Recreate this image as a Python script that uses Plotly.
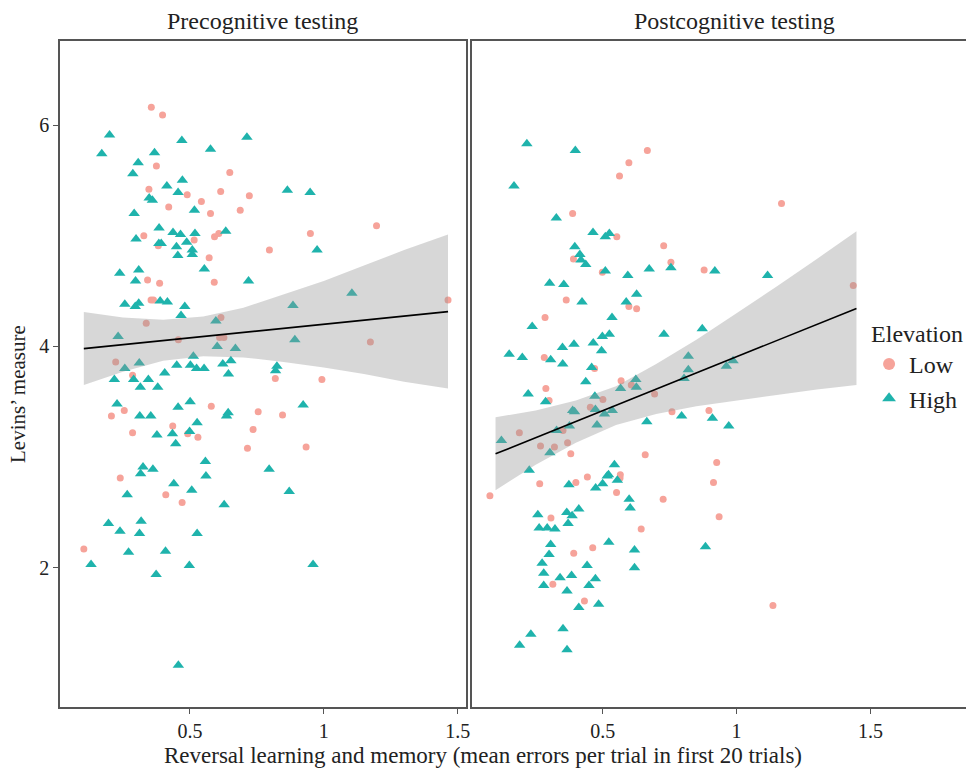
import plotly.graph_objects as go

# ---------------- data ----------------
pre_low_x = [0.356, 0.398, 0.375, 0.649, 0.347, 0.490, 0.615, 0.722, 0.543, 0.421, 0.577, 0.688,
             0.328, 0.382, 0.516, 0.592, 0.608, 0.572, 0.342, 0.387, 0.591, 0.355, 0.364, 0.337,
             0.616, 0.457, 0.611, 0.627, 0.223, 0.286, 0.207, 0.255, 0.286, 0.436, 0.492, 0.530,
             0.580, 0.755, 0.736, 0.715, 0.240, 0.410, 0.471, 0.104, 0.797, 0.950, 1.197, 1.464,
             1.174, 0.819, 0.993, 0.846, 0.934]
pre_low_y = [6.16, 6.09, 5.63, 5.57, 5.42, 5.37, 5.40, 5.36, 5.31, 5.26, 5.20, 5.23,
             5.00, 4.91, 4.96, 4.99, 5.02, 4.80, 4.60, 4.57, 4.58, 4.42, 4.42, 4.21,
             4.26, 4.06, 4.08, 4.08, 3.86, 3.74, 3.37, 3.42, 3.22, 3.28, 3.21, 3.18,
             3.46, 3.41, 3.25, 3.08, 2.81, 2.66, 2.59, 2.17, 4.87, 5.02, 5.09, 4.42,
             4.04, 3.71, 3.70, 3.38, 3.09]

pre_high_x = [0.200, 0.171, 0.470, 0.577, 0.713, 0.368, 0.307, 0.287, 0.472, 0.414, 0.456, 0.348,
              0.360, 0.292, 0.517, 0.385, 0.437, 0.465, 0.519, 0.634, 0.299, 0.384, 0.393, 0.450,
              0.488, 0.509, 0.509, 0.455, 0.554, 0.238, 0.309, 0.297, 0.719, 0.257, 0.296, 0.309,
              0.389, 0.416, 0.481, 0.467, 0.597, 0.232, 0.602, 0.670, 0.513, 0.257, 0.311, 0.451,
              0.502, 0.525, 0.553, 0.623, 0.653, 0.406, 0.644, 0.218, 0.290, 0.345, 0.315, 0.380,
              0.228, 0.313, 0.354, 0.456, 0.501, 0.527, 0.643, 0.637, 0.377, 0.435, 0.499, 0.447,
              0.558, 0.325, 0.316, 0.362, 0.560, 0.440, 0.507, 0.266, 0.628, 0.196, 0.318, 0.239,
              0.312, 0.527, 0.271, 0.409, 0.131, 0.498, 0.374, 0.457, 0.864, 0.949, 0.975, 1.105,
              0.885, 0.892, 0.825, 0.820, 0.923, 0.796, 0.871, 0.960]
pre_high_y = [5.91, 5.74, 5.86, 5.78, 5.89, 5.75, 5.66, 5.56, 5.50, 5.45, 5.39, 5.34,
              5.32, 5.20, 5.23, 5.07, 5.03, 5.01, 5.02, 5.04, 4.97, 4.93, 4.93, 4.90,
              4.94, 4.87, 4.83, 4.82, 4.70, 4.66, 4.69, 4.59, 4.59, 4.38, 4.36, 4.39,
              4.41, 4.40, 4.36, 4.28, 4.23, 4.09, 4.00, 3.98, 3.91, 3.80, 3.85, 3.83,
              3.83, 3.80, 3.80, 3.84, 3.87, 3.76, 3.75, 3.70, 3.70, 3.70, 3.63, 3.63,
              3.48, 3.37, 3.37, 3.45, 3.50, 3.31, 3.40, 3.37, 3.20, 3.21, 3.23, 3.12,
              2.96, 2.91, 2.85, 2.89, 2.83, 2.76, 2.70, 2.66, 2.57, 2.40, 2.42, 2.33,
              2.31, 2.31, 2.14, 2.15, 2.03, 2.02, 1.94, 1.12, 5.41, 5.39, 4.87, 4.48,
              4.37, 4.06, 3.82, 3.78, 3.47, 2.89, 2.69, 2.03]

post_low_x = [0.667, 0.598, 0.563, 0.388, 0.553, 0.728, 0.755, 0.391, 0.499, 0.364, 0.598, 0.627,
              0.285, 0.282, 0.470, 0.288, 0.569, 0.607, 0.694, 1.168, 0.879, 1.436, 0.300, 0.501,
              0.454, 0.759, 0.189, 0.352, 0.268, 0.320, 0.369, 0.381, 0.659, 0.079, 0.265, 0.400,
              0.443, 0.566, 0.565, 0.552, 0.726, 0.307, 0.644, 0.463, 0.392, 0.314, 0.432, 0.897,
              0.926, 0.914, 0.935, 1.136]
post_low_y = [5.77, 5.66, 5.54, 5.20, 4.99, 4.91, 4.76, 4.79, 4.67, 4.42, 4.36, 4.34,
              4.26, 3.90, 3.80, 3.62, 3.69, 3.65, 3.57, 5.29, 4.69, 4.55, 3.51, 3.52,
              3.45, 3.41, 3.22, 3.24, 3.10, 3.09, 3.13, 3.03, 3.02, 2.65, 2.76, 2.77,
              2.82, 2.84, 2.81, 2.68, 2.62, 2.45, 2.35, 2.18, 2.13, 1.85, 1.70, 3.42,
              2.95, 2.77, 2.46, 1.66]

post_high_x = [0.217, 0.398, 0.169, 0.327, 0.464, 0.510, 0.525, 0.396, 0.415, 0.419, 0.437, 0.510,
               0.594, 0.674, 0.755, 0.302, 0.355, 0.627, 0.423, 0.588, 0.535, 0.237, 0.729, 0.499,
               0.525, 0.350, 0.393, 0.465, 0.496, 0.151, 0.200, 0.306, 0.351, 0.459, 0.437, 0.222,
               0.567, 0.624, 0.626, 0.471, 0.919, 1.116, 0.872, 0.820, 0.820, 0.804, 0.962, 0.987,
               0.287, 0.388, 0.395, 0.473, 0.507, 0.536, 0.479, 0.665, 0.328, 0.376, 0.122, 0.303,
               0.226, 0.544, 0.517, 0.522, 0.555, 0.500, 0.474, 0.374, 0.599, 0.603, 0.258, 0.411,
               0.366, 0.386, 0.371, 0.263, 0.293, 0.322, 0.306, 0.523, 0.300, 0.619, 0.274, 0.442,
               0.619, 0.280, 0.341, 0.384, 0.473, 0.280, 0.449, 0.367, 0.411, 0.485, 0.352, 0.232,
               0.190, 0.367, 0.795, 0.910, 0.971, 0.884]
post_high_y = [5.83, 5.77, 5.45, 5.16, 5.03, 4.99, 5.02, 4.90, 4.83, 4.78, 4.74, 4.68,
               4.64, 4.70, 4.71, 4.57, 4.56, 4.47, 4.40, 4.40, 4.26, 4.18, 4.11, 4.09,
               4.11, 3.99, 4.02, 4.03, 3.96, 3.93, 3.90, 3.88, 3.84, 3.81, 3.68, 3.57,
               3.62, 3.70, 3.63, 3.55, 4.68, 4.64, 4.16, 3.91, 3.79, 3.71, 3.82, 3.87,
               3.50, 3.42, 3.41, 3.43, 3.39, 3.42, 3.29, 3.32, 3.24, 3.28, 3.15, 3.04,
               2.88, 2.93, 2.83, 2.84, 2.79, 2.76, 2.72, 2.75, 2.62, 2.54, 2.48, 2.53,
               2.50, 2.47, 2.40, 2.36, 2.36, 2.35, 2.21, 2.23, 2.12, 2.16, 2.04, 2.02,
               2.00, 1.95, 1.91, 1.93, 1.90, 1.84, 1.84, 1.79, 1.64, 1.67, 1.45, 1.40,
               1.30, 1.26, 3.37, 3.35, 3.28, 2.19]

# linear fit with 95% band
pre_fit_x = [0.104, 0.25, 0.40, 0.55, 0.70, 0.85, 1.00, 1.15, 1.30, 1.464]
pre_fit_y = [3.98, 4.016, 4.053, 4.090, 4.127, 4.163, 4.200, 4.237, 4.274, 4.314]
pre_band_hi = [4.31, 4.26, 4.24, 4.27, 4.35, 4.47, 4.59, 4.73, 4.87, 5.01]
pre_band_lo = [3.65, 3.77, 3.87, 3.91, 3.90, 3.86, 3.81, 3.75, 3.68, 3.62]

post_fit_x = [0.10, 0.25, 0.40, 0.55, 0.70, 0.85, 1.00, 1.15, 1.30, 1.448]
post_fit_y = [3.029, 3.175, 3.321, 3.467, 3.613, 3.759, 3.905, 4.051, 4.197, 4.343]
post_band_hi = [3.36, 3.42, 3.51, 3.64, 3.84, 4.06, 4.30, 4.54, 4.79, 5.04]
post_band_lo = [2.70, 2.93, 3.13, 3.29, 3.39, 3.46, 3.51, 3.56, 3.61, 3.65]

facet_titles = ["Precognitive testing", "Postcognitive testing"]
x_tick_vals = [0.5, 1, 1.5]
x_tick_text = ["0.5", "1", "1.5"]
y_tick_vals = [2, 4, 6]
y_tick_text = ["2", "4", "6"]

# ---------------- style ----------------
LOW_COL = "#F6A39A"
HIGH_COL = "#1FB3AC"
FONT = "Liberation Serif"
TXT = "#222222"
AX = "#555555"

fig = go.Figure()

panels = [
    ("x", "y", pre_low_x, pre_low_y, pre_high_x, pre_high_y, pre_fit_x, pre_fit_y, pre_band_hi, pre_band_lo, True),
    ("x2", "y2", post_low_x, post_low_y, post_high_x, post_high_y, post_fit_x, post_fit_y, post_band_hi, post_band_lo, False),
]

for xa, ya, lx, ly, hx, hy, fx, fy, bh, bl, leg in panels:
    fig.add_trace(go.Scatter(x=lx, y=ly, mode="markers", name="Low", xaxis=xa, yaxis=ya,
                             marker=dict(symbol="circle", size=7, color=LOW_COL),
                             showlegend=leg, legendgroup="low"))
    fig.add_trace(go.Scatter(x=hx, y=hy, mode="markers", name="High", xaxis=xa, yaxis=ya,
                             marker=dict(symbol="triangle-up", size=10, color=HIGH_COL),
                             showlegend=leg, legendgroup="high"))
    fig.add_trace(go.Scatter(x=list(fx) + list(fx)[::-1], y=list(bh) + list(bl)[::-1],
                             mode="lines", fill="toself", xaxis=xa, yaxis=ya,
                             fillcolor="rgba(150,150,150,0.38)", line=dict(width=0),
                             hoverinfo="skip", showlegend=False))
    fig.add_trace(go.Scatter(x=fx, y=fy, mode="lines", xaxis=xa, yaxis=ya,
                             line=dict(color="black", width=1.6), hoverinfo="skip", showlegend=False))

axis_common = dict(showgrid=False, zeroline=False, showline=True, linecolor=AX, linewidth=1.5,
                   ticks="outside", ticklen=5, tickcolor=AX, tickwidth=1.2,
                   tickfont=dict(family=FONT, size=20, color=TXT))

fig.update_layout(
    width=970, height=769,
    margin=dict(l=60, r=0, t=41, b=62),
    paper_bgcolor="white", plot_bgcolor="white",
    font=dict(family=FONT, size=20, color=TXT),
    xaxis=dict(domain=[0, 0.4478], range=[0.015, 1.530], tickvals=x_tick_vals, ticktext=x_tick_text,
               mirror=True, anchor="y", **axis_common),
    xaxis2=dict(domain=[0.455, 1], range=[0.013, 1.857], tickvals=x_tick_vals, ticktext=x_tick_text,
                mirror=True, anchor="y2", **axis_common),
    yaxis=dict(domain=[0, 1], range=[0.742, 6.759], tickvals=y_tick_vals, ticktext=y_tick_text,
               mirror=True, anchor="x", **axis_common),
    yaxis2=dict(domain=[0, 1], range=[0.742, 6.759], showgrid=False, zeroline=False, showline=True,
                linecolor=AX, linewidth=1.5, ticks="", showticklabels=False, anchor="x2"),
    legend=dict(x=0.893, y=0.595, xanchor="left", yanchor="top", bgcolor="rgba(0,0,0,0)",
                title=dict(text="Elevation", font=dict(family=FONT, size=24, color=TXT)),
                font=dict(family=FONT, size=24, color=TXT), itemsizing="constant",
                tracegroupgap=0, itemwidth=30),
    showlegend=True,
)

fig.add_annotation(text=facet_titles[0], x=0.2239, y=1.0, xref="paper", yref="paper",
                   yshift=20, xanchor="center", yanchor="middle", showarrow=False,
                   font=dict(family=FONT, size=24, color=TXT))
fig.add_annotation(text=facet_titles[1], x=0.744, y=1.0, xref="paper", yref="paper",
                   yshift=20, xanchor="center", yanchor="middle", showarrow=False,
                   font=dict(family=FONT, size=24, color=TXT))
fig.add_annotation(text="Reversal learning and memory (mean errors per trial in first 20 trials)",
                   x=0.467, y=0, xref="paper", yref="paper", yshift=-48, xanchor="center",
                   yanchor="middle", showarrow=False, font=dict(family=FONT, size=23, color=TXT))
fig.add_annotation(text="Levins’ measure", x=0, y=0.47, xref="paper", yref="paper",
                   xshift=-42, xanchor="center", textangle=-90, showarrow=False,
                   font=dict(family=FONT, size=21, color=TXT))

fig.write_html("out.html")
